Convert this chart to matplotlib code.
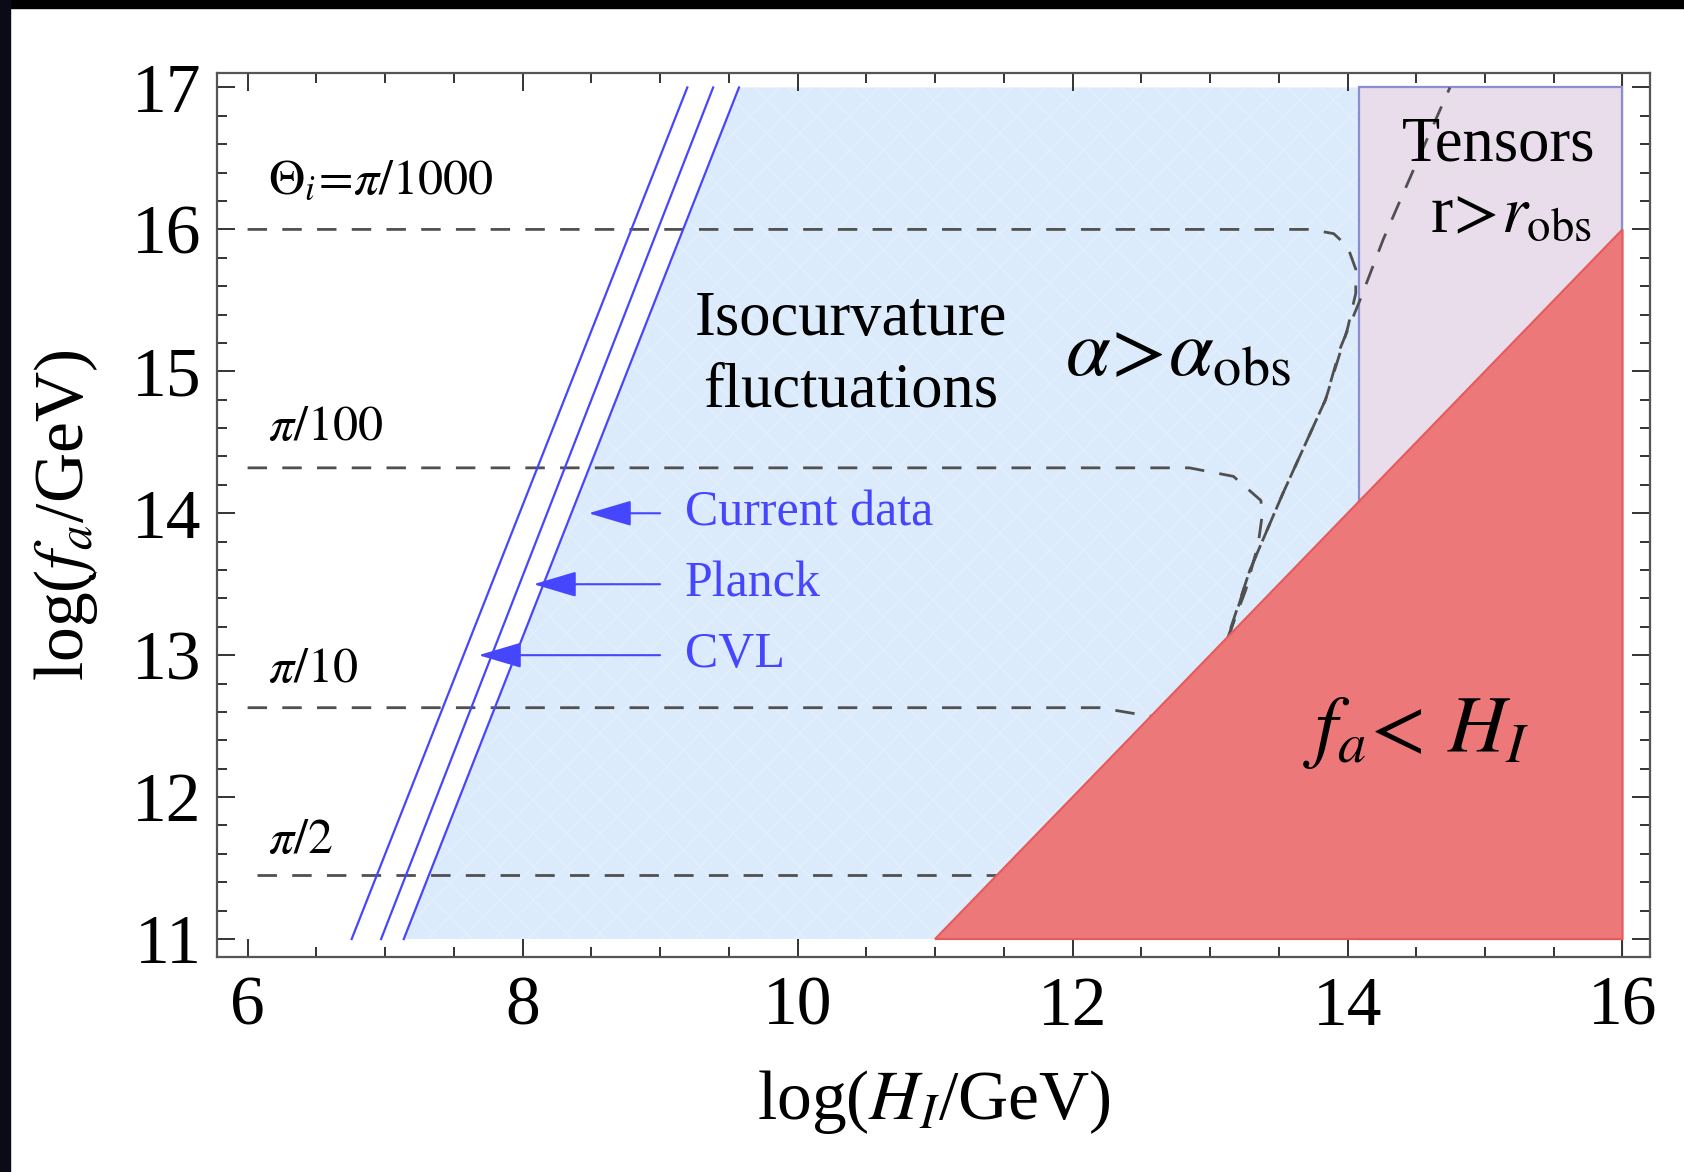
"""Axion isocurvature bounds in the (H_I, f_a) plane."""

import matplotlib
matplotlib.use('Agg')
import matplotlib.pyplot as plt
from matplotlib.patches import Polygon, Rectangle
from matplotlib.ticker import MultipleLocator

# Initial misalignment angle curves (log H_I, log f_a)
theta_labels = [r'$\Theta_i\!=\!\pi/1000$', r'$\pi/100$', r'$\pi/10$', r'$\pi/2$']
theta_label_pos = [(6.15, 16.34), (6.15, 14.60), (6.15, 12.90), (6.15, 11.69)]
theta_x = [
    [6.0, 13.73, 13.90, 14.00, 14.06, 14.06, 14.00, 13.84, 13.53, 13.29, 13.12],
    [6.0, 12.85, 13.17, 13.37, 13.38, 13.35, 13.26, 13.12],
    [6.0, 12.20, 12.44, 12.70],
    [6.07, 11.60],
]
theta_y = [
    [16.00, 16.00, 15.97, 15.88, 15.72, 15.55, 15.30, 14.80, 14.14, 13.60, 13.10],
    [14.32, 14.32, 14.26, 14.09, 13.99, 13.78, 13.46, 13.10],
    [12.63, 12.63, 12.59, 12.55],
    [11.45, 11.45],
]

# alpha > alpha_obs boundary
alpha_x = [13.13, 13.29, 13.53, 13.84, 13.95, 14.09, 14.26, 14.48, 14.745]
alpha_y = [13.11, 13.60, 14.14, 14.80, 15.17, 15.50, 15.93, 16.42, 17.00]

# isocurvature bounds: (H_I at f_a=11, H_I at f_a=17)
bound_names = ['CVL', 'Planck', 'Current data']
bound_bottom = [6.757, 6.971, 7.136]
bound_top = [9.198, 9.386, 9.574]
arrow_y = [13.0, 13.5, 14.0]
arrow_tip = [7.68, 8.08, 8.48]
arrow_tail = 9.0

# tensor region and f_a < H_I region
tensor_x = (14.08, 16.0)
fa_range = (11.0, 16.0)
f_min, f_max = 11.0, 17.0

BLUE = '#4646ff'
DASH = '#505050'


def main():
    """Draws the bound plot and saves it to out.png."""
    plt.rcParams['font.family'] = ['Liberation Serif', 'DejaVu Serif']
    plt.rcParams['mathtext.fontset'] = 'stix'
    plt.rcParams['hatch.linewidth'] = 1.0

    fig = plt.figure(figsize=(16.84, 11.72), dpi=100)
    ax = fig.add_axes([0.1289, 0.1834, 0.8509, 0.7543])

    # Regions
    iso = Polygon([(bound_bottom[-1], f_min), (bound_top[-1], f_max),
                   (fa_range[1], f_max), (fa_range[1], f_min)],
                  closed=True, facecolor='#dcebfb', edgecolor='none',
                  zorder=1)
    ax.add_patch(iso)
    tex = Polygon(iso.get_xy(), closed=True, facecolor='none',
                  edgecolor='#e3effc', hatch='x', lw=0, zorder=1.1)
    ax.add_patch(tex)
    tens = Rectangle((tensor_x[0], f_min), tensor_x[1] - tensor_x[0],
                     f_max - f_min, facecolor='#e9ddec',
                     edgecolor='#8c8cd2', lw=1.6, zorder=2)
    ax.add_patch(tens)
    red = Polygon([(fa_range[0], fa_range[0]), (fa_range[1], fa_range[1]),
                   (fa_range[1], fa_range[0])], closed=True,
                  facecolor='#ec787a', edgecolor='#e65a5a', lw=1.5, zorder=5)
    ax.add_patch(red)

    # Dashed curves
    for xs, ys in zip(theta_x, theta_y):
        ax.plot(xs, ys, color=DASH, lw=2.0, dashes=(7, 5.5), zorder=3)
    ax.plot(alpha_x, alpha_y, color=DASH, lw=2.0, dashes=(7, 5.5), zorder=3)
    for lab, (x, y) in zip(theta_labels, theta_label_pos):
        ax.text(x, y, lab, fontsize=36, ha='left', va='center', zorder=6)

    # Isocurvature bound lines and arrows
    for x0, x1 in zip(bound_bottom, bound_top):
        ax.plot([x0, x1], [f_min, f_max], color=BLUE, lw=1.6, zorder=6)
    for name, y, tip in zip(bound_names, arrow_y, arrow_tip):
        ax.annotate('', xy=(tip, y), xytext=(arrow_tail, y),
                    arrowprops=dict(arrowstyle='-|>,head_length=1.35,'
                                    'head_width=0.4', color=BLUE, lw=1.5,
                                    shrinkA=0, shrinkB=0, mutation_scale=20),
                    zorder=6)
        ax.text(arrow_tail + 0.18, y, name, color=BLUE, fontsize=36,
                ha='left', va='center', zorder=6)

    # Region labels
    ax.text(10.39, 15.36, 'Isocurvature', fontsize=45, ha='center',
            va='center', zorder=6)
    ax.text(10.39, 14.86, 'fluctuations', fontsize=45, ha='center',
            va='center', zorder=6)
    ax.text(12.77, 15.11, r'$\alpha\!>\!\alpha_{\rm obs}$', fontsize=58,
            ha='center', va='center', zorder=6)
    ax.text(15.10, 16.59, 'Tensors', fontsize=45, ha='center', va='center',
            zorder=6)
    ax.text(15.19, 16.10, r'r$\!>\!r_{\rm obs}$', fontsize=48, ha='center',
            va='center', zorder=6)
    ax.text(14.50, 12.45, r'$f_a\!<\,H_I$', fontsize=58, ha='center',
            va='center', zorder=6)

    # Frame
    ax.axvline(16.0, color='#bdbdbd', lw=1.0, zorder=0.5)
    ax.set_xlim(5.778, 16.2)
    ax.set_ylim(10.873, 17.102)
    ax.xaxis.set_major_locator(MultipleLocator(2))
    ax.xaxis.set_minor_locator(MultipleLocator(0.5))
    ax.yaxis.set_major_locator(MultipleLocator(1))
    ax.yaxis.set_minor_locator(MultipleLocator(0.2))
    ax.tick_params(which='both', direction='in', top=True, right=True,
                   color='#333333', width=1.4, labelsize=50)
    ax.tick_params(which='major', length=13)
    ax.tick_params(which='minor', length=7)
    ax.tick_params(axis='x', pad=14)
    ax.tick_params(axis='y', pad=11)
    for spine in ax.spines.values():
        spine.set_color('#555555')
        spine.set_linewidth(1.6)
    ax.set_xlabel(r'log($H_I$/GeV)', fontsize=50, labelpad=20)
    ax.set_ylabel(r'log($f_a$/GeV)', fontsize=50)
    ax.yaxis.set_label_coords(-0.082, 0.5)

    # Screen edge
    fig.add_artist(Rectangle((0, 1 - 8 / 1172), 1, 8 / 1172,
                             transform=fig.transFigure, color='black'))
    fig.add_artist(Rectangle((0, 0), 10 / 1684, 1,
                             transform=fig.transFigure, color='#0b0b18'))

    # Save
    fig.savefig('out.png', dpi=100)
    plt.close(fig)


if __name__ == '__main__':
    main()
